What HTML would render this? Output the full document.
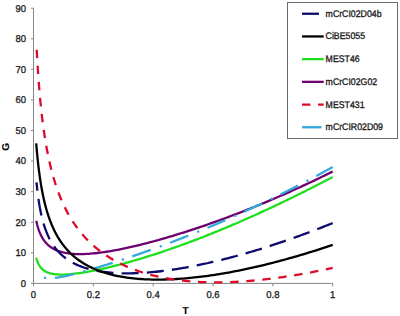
<!DOCTYPE html>
<html><head><meta charset="utf-8"><style>
html,body{margin:0;padding:0;background:#fff;}
svg{display:block;}
text{font-family:"Liberation Sans",sans-serif;font-size:9px;fill:#1a1a1a;text-rendering:geometricPrecision;stroke:#1a1a1a;stroke-width:0.3px;}
text.a{font-size:9.5px;}
text.l{font-size:8.75px;}
text.b{font-weight:bold;fill:#000;font-size:10px;stroke-width:0.1px;}
</style></head><body>
<svg width="400" height="316" viewBox="0 0 400 316">
<rect width="400" height="316" fill="#fff"/>
<path d="M33.5,8.2 V283.4 H332.7" stroke="#868686" stroke-width="1" fill="none"/>
<path d="M31.0,283.40 H33.5" stroke="#868686" stroke-width="1"/>
<text class="a" transform="translate(26,286.70) scale(1,1.04)" text-anchor="end">0</text>
<path d="M31.0,252.82 H33.5" stroke="#868686" stroke-width="1"/>
<text class="a" transform="translate(26,256.12) scale(1,1.04)" text-anchor="end">10</text>
<path d="M31.0,222.24 H33.5" stroke="#868686" stroke-width="1"/>
<text class="a" transform="translate(26,225.54) scale(1,1.04)" text-anchor="end">20</text>
<path d="M31.0,191.67 H33.5" stroke="#868686" stroke-width="1"/>
<text class="a" transform="translate(26,194.97) scale(1,1.04)" text-anchor="end">30</text>
<path d="M31.0,161.09 H33.5" stroke="#868686" stroke-width="1"/>
<text class="a" transform="translate(26,164.39) scale(1,1.04)" text-anchor="end">40</text>
<path d="M31.0,130.51 H33.5" stroke="#868686" stroke-width="1"/>
<text class="a" transform="translate(26,133.81) scale(1,1.04)" text-anchor="end">50</text>
<path d="M31.0,99.93 H33.5" stroke="#868686" stroke-width="1"/>
<text class="a" transform="translate(26,103.23) scale(1,1.04)" text-anchor="end">60</text>
<path d="M31.0,69.36 H33.5" stroke="#868686" stroke-width="1"/>
<text class="a" transform="translate(26,72.66) scale(1,1.04)" text-anchor="end">70</text>
<path d="M31.0,38.78 H33.5" stroke="#868686" stroke-width="1"/>
<text class="a" transform="translate(26,42.08) scale(1,1.04)" text-anchor="end">80</text>
<path d="M31.0,8.20 H33.5" stroke="#868686" stroke-width="1"/>
<text class="a" transform="translate(26,11.50) scale(1,1.04)" text-anchor="end">90</text>
<path d="M33.50,283.4 V286.4" stroke="#868686" stroke-width="1"/>
<text class="a" transform="translate(33.50,298.1) scale(1,1.04)" text-anchor="middle">0</text>
<path d="M93.34,283.4 V286.4" stroke="#868686" stroke-width="1"/>
<text class="a" transform="translate(93.34,298.1) scale(1,1.04)" text-anchor="middle">0.2</text>
<path d="M153.18,283.4 V286.4" stroke="#868686" stroke-width="1"/>
<text class="a" transform="translate(153.18,298.1) scale(1,1.04)" text-anchor="middle">0.4</text>
<path d="M213.02,283.4 V286.4" stroke="#868686" stroke-width="1"/>
<text class="a" transform="translate(213.02,298.1) scale(1,1.04)" text-anchor="middle">0.6</text>
<path d="M272.86,283.4 V286.4" stroke="#868686" stroke-width="1"/>
<text class="a" transform="translate(272.86,298.1) scale(1,1.04)" text-anchor="middle">0.8</text>
<path d="M332.70,283.4 V286.4" stroke="#868686" stroke-width="1"/>
<text class="a" transform="translate(332.70,298.1) scale(1,1.04)" text-anchor="middle">1</text>
<path d="M36.31,220.80 L36.35,221.00 L36.40,221.21 L36.44,221.41 L36.48,221.61 L36.53,221.82 L36.57,222.03 L36.62,222.23 L36.67,222.44 L36.71,222.65 L36.76,222.86 L36.81,223.07 L36.86,223.28 L36.91,223.49 L36.96,223.70 L37.01,223.92 L37.07,224.13 L37.12,224.35 L37.17,224.56 L37.23,224.78 L37.28,224.99 L37.34,225.21 L37.40,225.43 L37.46,225.65 L37.52,225.86 L37.58,226.08 L37.64,226.30 L37.70,226.52 L37.76,226.74 L37.83,226.97 L37.89,227.19 L37.96,227.41 L38.02,227.63 L38.09,227.86 L38.16,228.08 L38.23,228.30 L38.30,228.53 L38.37,228.75 L38.45,228.98 L38.52,229.20 L38.60,229.43 L38.67,229.65 L38.75,229.88 L38.83,230.11 L38.91,230.33 L38.99,230.56 L39.07,230.79 L39.15,231.01 L39.24,231.24 L39.33,231.47 L39.41,231.70 L39.50,231.92 L39.59,232.15 L39.68,232.38 L39.78,232.61 L39.87,232.83 L39.96,233.06 L40.06,233.29 L40.16,233.52 L40.26,233.75 L40.36,233.97 L40.46,234.20 L40.57,234.43 L40.67,234.66 L40.78,234.88 L40.89,235.11 L41.00,235.34 L41.11,235.56 L41.23,235.79 L41.34,236.02 L41.46,236.24 L41.58,236.47 L41.70,236.69 L41.82,236.92 L41.95,237.14 L42.08,237.37 L42.20,237.59 L42.34,237.81 L42.47,238.04 L42.60,238.26 L42.74,238.48 L42.88,238.70 L43.02,238.92 L43.16,239.15 L43.30,239.37 L43.45,239.58 L43.60,239.80 L43.75,240.02 L43.91,240.24 L44.06,240.46 L44.22,240.67 L44.38,240.89 L44.54,241.10 L44.71,241.32 L44.88,241.53 L45.05,241.74 L45.22,241.95 L45.40,242.16 L45.57,242.37 L45.76,242.58 L45.94,242.79 L46.13,243.00 L46.31,243.20 L46.51,243.41 L46.70,243.61 L46.90,243.82 L47.10,244.02 L47.30,244.22 L47.51,244.42 L47.72,244.62 L47.93,244.82 L48.15,245.01 L48.37,245.21 L48.59,245.40 L48.82,245.59 L49.05,245.78 L49.28,245.97 L49.52,246.16 L49.76,246.35 L50.00,246.54 L50.25,246.72 L50.50,246.90 L50.76,247.08 L51.01,247.26 L51.28,247.44 L51.54,247.62 L51.81,247.79 L52.09,247.97 L52.37,248.14 L52.65,248.31 L52.94,248.48 L53.23,248.65 L53.52,248.81 L53.82,248.97 L54.13,249.14 L54.44,249.29 L54.75,249.45 L55.07,249.61 L55.39,249.76 L55.72,249.91 L56.05,250.06 L56.39,250.21 L56.73,250.36 L57.08,250.50 L57.44,250.64 L57.79,250.78 L58.16,250.92 L58.53,251.05 L58.90,251.18 L59.28,251.31 L59.67,251.44 L60.06,251.57 L60.46,251.69 L60.87,251.81 L61.28,251.93 L61.69,252.04 L62.11,252.15 L62.54,252.26 L62.98,252.37 L63.42,252.48 L65.68,252.95 L67.95,253.32 L70.21,253.61 L72.47,253.83 L74.73,253.98 L77.00,254.07 L79.26,254.11 L81.52,254.10 L83.79,254.04 L86.05,253.95 L88.31,253.82 L90.57,253.66 L92.84,253.47 L95.10,253.24 L97.36,252.99 L99.63,252.72 L101.89,252.42 L104.15,252.10 L106.41,251.76 L108.68,251.40 L110.94,251.02 L113.20,250.63 L115.47,250.22 L117.73,249.79 L119.99,249.34 L122.25,248.89 L124.52,248.42 L126.78,247.93 L129.04,247.43 L131.31,246.92 L133.57,246.40 L135.83,245.87 L138.09,245.33 L140.36,244.77 L142.62,244.21 L144.88,243.63 L147.15,243.05 L149.41,242.46 L151.67,241.85 L153.93,241.24 L156.20,240.62 L158.46,239.99 L160.72,239.35 L162.99,238.71 L165.25,238.05 L167.51,237.39 L169.77,236.72 L172.04,236.04 L174.30,235.36 L176.56,234.67 L178.83,233.97 L181.09,233.26 L183.35,232.55 L185.61,231.83 L187.88,231.10 L190.14,230.36 L192.40,229.62 L194.67,228.87 L196.93,228.12 L199.19,227.36 L201.45,226.59 L203.72,225.82 L205.98,225.04 L208.24,224.25 L210.51,223.46 L212.77,222.66 L215.03,221.85 L217.29,221.04 L219.56,220.22 L221.82,219.39 L224.08,218.56 L226.35,217.73 L228.61,216.88 L230.87,216.03 L233.13,215.18 L235.40,214.32 L237.66,213.45 L239.92,212.58 L242.19,211.70 L244.45,210.81 L246.71,209.92 L248.97,209.02 L251.24,208.12 L253.50,207.21 L255.76,206.29 L258.03,205.37 L260.29,204.44 L262.55,203.51 L264.81,202.57 L267.08,201.63 L269.34,200.67 L271.60,199.72 L273.87,198.75 L276.13,197.78 L278.39,196.81 L280.65,195.82 L282.92,194.83 L285.18,193.84 L287.44,192.84 L289.71,191.83 L291.97,190.82 L294.23,189.80 L296.49,188.78 L298.76,187.74 L301.02,186.71 L303.28,185.66 L305.55,184.61 L307.81,183.56 L310.07,182.49 L312.33,181.42 L314.60,180.35 L316.86,179.27 L319.12,178.18 L321.39,177.08 L323.65,175.98 L325.91,174.87 L328.17,173.76 L330.44,172.64 L332.70,171.51" stroke="#700070" stroke-width="2.3" fill="none"/>
<path d="M36.16,257.80 L36.20,257.94 L36.24,258.09 L36.28,258.23 L36.33,258.37 L36.37,258.52 L36.41,258.66 L36.46,258.81 L36.51,258.95 L36.55,259.10 L36.60,259.25 L36.65,259.39 L36.69,259.54 L36.74,259.69 L36.79,259.84 L36.84,259.99 L36.89,260.13 L36.95,260.28 L37.00,260.43 L37.05,260.58 L37.11,260.73 L37.16,260.88 L37.22,261.03 L37.28,261.18 L37.33,261.33 L37.39,261.48 L37.45,261.63 L37.51,261.78 L37.57,261.93 L37.64,262.08 L37.70,262.23 L37.76,262.38 L37.83,262.53 L37.90,262.68 L37.96,262.83 L38.03,262.98 L38.10,263.13 L38.17,263.28 L38.24,263.43 L38.32,263.58 L38.39,263.73 L38.47,263.88 L38.54,264.02 L38.62,264.17 L38.70,264.32 L38.78,264.47 L38.86,264.62 L38.94,264.76 L39.02,264.91 L39.11,265.06 L39.19,265.20 L39.28,265.35 L39.37,265.49 L39.46,265.64 L39.55,265.78 L39.64,265.93 L39.74,266.07 L39.83,266.21 L39.93,266.35 L40.03,266.50 L40.13,266.64 L40.23,266.78 L40.34,266.92 L40.44,267.05 L40.55,267.19 L40.66,267.33 L40.76,267.47 L40.88,267.60 L40.99,267.74 L41.10,267.87 L41.22,268.01 L41.34,268.14 L41.46,268.27 L41.58,268.40 L41.71,268.53 L41.83,268.66 L41.96,268.79 L42.09,268.92 L42.22,269.05 L42.35,269.17 L42.49,269.30 L42.63,269.42 L42.77,269.54 L42.91,269.66 L43.05,269.78 L43.20,269.90 L43.35,270.02 L43.50,270.14 L43.65,270.26 L43.81,270.37 L43.97,270.48 L44.13,270.60 L44.29,270.71 L44.46,270.82 L44.63,270.93 L44.80,271.04 L44.97,271.14 L45.14,271.25 L45.32,271.35 L45.50,271.45 L45.69,271.56 L45.88,271.66 L46.07,271.75 L46.26,271.85 L46.45,271.95 L46.65,272.04 L46.85,272.14 L47.06,272.23 L47.27,272.32 L47.48,272.41 L47.69,272.49 L47.91,272.58 L48.13,272.66 L48.36,272.74 L48.58,272.83 L48.82,272.91 L49.05,272.98 L49.29,273.06 L49.53,273.13 L49.78,273.21 L50.03,273.28 L50.28,273.35 L50.54,273.42 L50.80,273.48 L51.06,273.55 L51.33,273.61 L51.61,273.67 L51.88,273.73 L52.17,273.79 L52.45,273.84 L52.74,273.90 L53.04,273.95 L53.34,274.00 L53.64,274.05 L53.95,274.09 L54.26,274.14 L54.58,274.18 L54.91,274.22 L55.23,274.26 L55.57,274.29 L55.91,274.33 L56.25,274.36 L56.60,274.39 L56.95,274.42 L57.31,274.44 L57.68,274.47 L58.05,274.49 L58.43,274.51 L58.81,274.53 L59.20,274.54 L59.59,274.55 L59.99,274.56 L60.40,274.57 L60.81,274.58 L61.23,274.58 L61.65,274.58 L62.08,274.58 L62.52,274.57 L62.97,274.57 L63.42,274.56 L65.68,274.48 L67.95,274.34 L70.21,274.17 L72.47,273.95 L74.73,273.70 L77.00,273.42 L79.26,273.11 L81.52,272.78 L83.79,272.42 L86.05,272.04 L88.31,271.65 L90.57,271.23 L92.84,270.80 L95.10,270.35 L97.36,269.88 L99.63,269.40 L101.89,268.91 L104.15,268.40 L106.41,267.88 L108.68,267.34 L110.94,266.80 L113.20,266.24 L115.47,265.67 L117.73,265.09 L119.99,264.50 L122.25,263.90 L124.52,263.29 L126.78,262.67 L129.04,262.05 L131.31,261.41 L133.57,260.76 L135.83,260.10 L138.09,259.43 L140.36,258.76 L142.62,258.07 L144.88,257.38 L147.15,256.68 L149.41,255.97 L151.67,255.25 L153.93,254.53 L156.20,253.80 L158.46,253.05 L160.72,252.31 L162.99,251.55 L165.25,250.78 L167.51,250.01 L169.77,249.23 L172.04,248.45 L174.30,247.65 L176.56,246.85 L178.83,246.04 L181.09,245.23 L183.35,244.41 L185.61,243.58 L187.88,242.74 L190.14,241.90 L192.40,241.05 L194.67,240.19 L196.93,239.33 L199.19,238.46 L201.45,237.58 L203.72,236.70 L205.98,235.81 L208.24,234.92 L210.51,234.01 L212.77,233.11 L215.03,232.19 L217.29,231.27 L219.56,230.34 L221.82,229.41 L224.08,228.47 L226.35,227.53 L228.61,226.58 L230.87,225.62 L233.13,224.66 L235.40,223.69 L237.66,222.71 L239.92,221.73 L242.19,220.75 L244.45,219.75 L246.71,218.76 L248.97,217.75 L251.24,216.74 L253.50,215.73 L255.76,214.71 L258.03,213.69 L260.29,212.65 L262.55,211.62 L264.81,210.58 L267.08,209.53 L269.34,208.48 L271.60,207.42 L273.87,206.36 L276.13,205.29 L278.39,204.22 L280.65,203.14 L282.92,202.06 L285.18,200.97 L287.44,199.88 L289.71,198.78 L291.97,197.68 L294.23,196.57 L296.49,195.46 L298.76,194.34 L301.02,193.22 L303.28,192.10 L305.55,190.96 L307.81,189.83 L310.07,188.69 L312.33,187.54 L314.60,186.39 L316.86,185.24 L319.12,184.08 L321.39,182.92 L323.65,181.75 L325.91,180.58 L328.17,179.40 L330.44,178.22 L332.70,177.04" stroke="#20de20" stroke-width="2.3" fill="none"/>
<path d="M36.49,274.30 L36.54,274.33 L36.58,274.37 L36.62,274.40 L36.67,274.44 L36.72,274.47 L36.76,274.50 L36.81,274.54 L36.86,274.57 L36.91,274.61 L36.96,274.65 L37.01,274.68 L37.06,274.72 L37.11,274.75 L37.16,274.79 L37.22,274.83 L37.27,274.86 L37.33,274.90 L37.38,274.94 L37.44,274.98 L37.50,275.02 L37.56,275.05 L37.61,275.09 L37.67,275.13 L37.74,275.17 L37.80,275.21 L37.86,275.25 L37.92,275.29 L37.99,275.33 L38.05,275.37 L38.12,275.41 L38.19,275.45 L38.26,275.49 L38.33,275.53 L38.40,275.57 L38.47,275.61 L38.54,275.65 L38.61,275.69 L38.69,275.73 L38.76,275.77 L38.84,275.82 L38.92,275.86 L39.00,275.90 L39.08,275.94 L39.16,275.98 L39.24,276.02 L39.32,276.07 L39.41,276.11 L39.50,276.15 L39.58,276.19 L39.67,276.23 L39.76,276.28 L39.85,276.32 L39.95,276.36 L40.04,276.40 L40.14,276.44 L40.23,276.48 L40.33,276.53 L40.43,276.57 L40.53,276.61 L40.63,276.65 L40.74,276.69 L40.84,276.73 L40.95,276.77 L41.06,276.81 L41.17,276.85 L41.28,276.89 L41.39,276.93 L41.51,276.97 L41.63,277.01 L41.75,277.05 L41.87,277.09 L41.99,277.13 L42.11,277.17 L42.24,277.20 L42.36,277.24 L42.49,277.28 L42.63,277.32 L42.76,277.35 L42.89,277.39 L43.03,277.42 L43.17,277.46 L43.31,277.49 L43.45,277.52 L43.60,277.56 L43.75,277.59 L43.90,277.62 L44.05,277.65 L44.20,277.68 L44.36,277.71 L44.52,277.74 L44.68,277.77 L44.84,277.80 L45.00,277.82 L45.17,277.85 L45.34,277.88 L45.52,277.90 L45.69,277.92 L45.87,277.95 L46.05,277.97 L46.23,277.99 L46.42,278.01 L46.61,278.03 L46.80,278.04 L46.99,278.06 L47.19,278.07 L47.39,278.09 L47.59,278.10 L47.80,278.11 L48.00,278.12 L48.22,278.13 L48.43,278.14 L48.65,278.15 L48.87,278.15 L49.09,278.16 L49.32,278.16 L49.55,278.16 L49.79,278.16 L50.02,278.16 L50.26,278.16 L50.51,278.15 L50.76,278.15 L51.01,278.14 L51.26,278.13 L51.52,278.12 L51.79,278.11 L52.05,278.09 L52.32,278.08 L52.60,278.06 L52.88,278.04 L53.16,278.02 L53.45,278.00 L53.74,277.97 L54.03,277.94 L54.33,277.92 L54.64,277.88 L54.94,277.85 L55.26,277.82 L55.57,277.78 L55.90,277.74 L56.22,277.70 L56.55,277.66 L56.89,277.61 L57.23,277.57 L57.58,277.52 L57.93,277.47 L58.29,277.41 L58.65,277.36 L59.01,277.30 L59.39,277.24 L59.76,277.17 L60.15,277.11 L60.54,277.04 L60.93,276.97 L61.33,276.90 L61.74,276.82 L62.15,276.74 L62.57,276.66 L62.99,276.58 L63.42,276.50 L65.68,276.03 L67.95,275.52 L70.21,275.00 L72.47,274.45 L74.73,273.88 L77.00,273.29 L79.26,272.69 L81.52,272.08 L83.79,271.46 L86.05,270.82 L88.31,270.18 L90.57,269.53 L92.84,268.87 L95.10,268.20 L97.36,267.52 L99.63,266.84 L101.89,266.15 L104.15,265.46 L106.41,264.75 L108.68,264.05 L110.94,263.33 L113.20,262.61 L115.47,261.89 L117.73,261.16 L119.99,260.42 L122.25,259.68 L124.52,258.93 L126.78,258.18 L129.04,257.42 L131.31,256.66 L133.57,255.89 L135.83,255.11 L138.09,254.33 L140.36,253.55 L142.62,252.75 L144.88,251.96 L147.15,251.16 L149.41,250.35 L151.67,249.54 L153.93,248.72 L156.20,247.89 L158.46,247.07 L160.72,246.23 L162.99,245.39 L165.25,244.55 L167.51,243.70 L169.77,242.84 L172.04,241.98 L174.30,241.11 L176.56,240.24 L178.83,239.37 L181.09,238.48 L183.35,237.60 L185.61,236.70 L187.88,235.80 L190.14,234.90 L192.40,233.99 L194.67,233.08 L196.93,232.16 L199.19,231.23 L201.45,230.30 L203.72,229.36 L205.98,228.42 L208.24,227.48 L210.51,226.52 L212.77,225.57 L215.03,224.60 L217.29,223.64 L219.56,222.66 L221.82,221.68 L224.08,220.70 L226.35,219.71 L228.61,218.71 L230.87,217.71 L233.13,216.71 L235.40,215.70 L237.66,214.68 L239.92,213.66 L242.19,212.63 L244.45,211.60 L246.71,210.56 L248.97,209.51 L251.24,208.46 L253.50,207.41 L255.76,206.35 L258.03,205.28 L260.29,204.21 L262.55,203.14 L264.81,202.06 L267.08,200.97 L269.34,199.88 L271.60,198.78 L273.87,197.67 L276.13,196.57 L278.39,195.45 L280.65,194.33 L282.92,193.21 L285.18,192.08 L287.44,190.94 L289.71,189.80 L291.97,188.65 L294.23,187.50 L296.49,186.34 L298.76,185.18 L301.02,184.01 L303.28,182.84 L305.55,181.66 L307.81,180.47 L310.07,179.28 L312.33,178.09 L314.60,176.88 L316.86,175.68 L319.12,174.47 L321.39,173.25 L323.65,172.02 L325.91,170.80 L328.17,169.56 L330.44,168.32 L332.70,167.08" stroke="#33a9dc" stroke-width="2.3" fill="none" stroke-dasharray="19.5 9.6 2.2 8.9" stroke-dashoffset="20.90"/>
<path d="M36.49,182.28 L36.54,182.74 L36.58,183.20 L36.62,183.66 L36.67,184.12 L36.72,184.58 L36.76,185.04 L36.81,185.51 L36.86,185.98 L36.91,186.45 L36.96,186.92 L37.01,187.39 L37.06,187.86 L37.11,188.34 L37.16,188.81 L37.22,189.29 L37.27,189.77 L37.33,190.25 L37.38,190.73 L37.44,191.21 L37.50,191.70 L37.56,192.18 L37.61,192.67 L37.67,193.16 L37.74,193.64 L37.80,194.13 L37.86,194.62 L37.92,195.11 L37.99,195.61 L38.05,196.10 L38.12,196.59 L38.19,197.09 L38.26,197.58 L38.33,198.08 L38.40,198.58 L38.47,199.08 L38.54,199.57 L38.61,200.07 L38.69,200.57 L38.76,201.07 L38.84,201.57 L38.92,202.08 L39.00,202.58 L39.08,203.08 L39.16,203.58 L39.24,204.09 L39.32,204.59 L39.41,205.09 L39.50,205.60 L39.58,206.10 L39.67,206.60 L39.76,207.11 L39.85,207.61 L39.95,208.12 L40.04,208.62 L40.14,209.13 L40.23,209.63 L40.33,210.14 L40.43,210.64 L40.53,211.15 L40.63,211.65 L40.74,212.16 L40.84,212.66 L40.95,213.17 L41.06,213.67 L41.17,214.18 L41.28,214.68 L41.39,215.18 L41.51,215.68 L41.63,216.19 L41.75,216.69 L41.87,217.19 L41.99,217.69 L42.11,218.19 L42.24,218.69 L42.36,219.19 L42.49,219.69 L42.63,220.19 L42.76,220.69 L42.89,221.18 L43.03,221.68 L43.17,222.18 L43.31,222.67 L43.45,223.16 L43.60,223.66 L43.75,224.15 L43.90,224.64 L44.05,225.13 L44.20,225.62 L44.36,226.11 L44.52,226.60 L44.68,227.08 L44.84,227.57 L45.00,228.05 L45.17,228.54 L45.34,229.02 L45.52,229.50 L45.69,229.98 L45.87,230.46 L46.05,230.94 L46.23,231.41 L46.42,231.89 L46.61,232.36 L46.80,232.83 L46.99,233.30 L47.19,233.77 L47.39,234.24 L47.59,234.71 L47.80,235.18 L48.00,235.64 L48.22,236.10 L48.43,236.56 L48.65,237.02 L48.87,237.48 L49.09,237.94 L49.32,238.39 L49.55,238.85 L49.79,239.30 L50.02,239.75 L50.26,240.19 L50.51,240.64 L50.76,241.09 L51.01,241.53 L51.26,241.97 L51.52,242.41 L51.79,242.85 L52.05,243.28 L52.32,243.72 L52.60,244.15 L52.88,244.58 L53.16,245.01 L53.45,245.43 L53.74,245.86 L54.03,246.28 L54.33,246.70 L54.64,247.12 L54.94,247.53 L55.26,247.95 L55.57,248.36 L55.90,248.77 L56.22,249.18 L56.55,249.58 L56.89,249.99 L57.23,250.39 L57.58,250.79 L57.93,251.18 L58.29,251.58 L58.65,251.97 L59.01,252.36 L59.39,252.75 L59.76,253.13 L60.15,253.51 L60.54,253.89 L60.93,254.27 L61.33,254.65 L61.74,255.02 L62.15,255.39 L62.57,255.76 L62.99,256.12 L63.42,256.48 L65.68,258.27 L67.95,259.87 L70.21,261.30 L72.47,262.60 L74.73,263.78 L77.00,264.84 L79.26,265.81 L81.52,266.69 L83.79,267.48 L86.05,268.21 L88.31,268.87 L90.57,269.46 L92.84,270.00 L95.10,270.49 L97.36,270.93 L99.63,271.32 L101.89,271.68 L104.15,271.99 L106.41,272.26 L108.68,272.50 L110.94,272.71 L113.20,272.88 L115.47,273.03 L117.73,273.14 L119.99,273.23 L122.25,273.30 L124.52,273.33 L126.78,273.35 L129.04,273.34 L131.31,273.31 L133.57,273.26 L135.83,273.19 L138.09,273.10 L140.36,272.99 L142.62,272.86 L144.88,272.71 L147.15,272.55 L149.41,272.37 L151.67,272.18 L153.93,271.96 L156.20,271.74 L158.46,271.50 L160.72,271.24 L162.99,270.97 L165.25,270.68 L167.51,270.39 L169.77,270.08 L172.04,269.75 L174.30,269.42 L176.56,269.07 L178.83,268.71 L181.09,268.33 L183.35,267.95 L185.61,267.55 L187.88,267.14 L190.14,266.72 L192.40,266.30 L194.67,265.86 L196.93,265.40 L199.19,264.94 L201.45,264.47 L203.72,263.99 L205.98,263.50 L208.24,263.00 L210.51,262.49 L212.77,261.97 L215.03,261.44 L217.29,260.90 L219.56,260.35 L221.82,259.79 L224.08,259.23 L226.35,258.65 L228.61,258.07 L230.87,257.47 L233.13,256.87 L235.40,256.26 L237.66,255.65 L239.92,255.02 L242.19,254.39 L244.45,253.74 L246.71,253.09 L248.97,252.44 L251.24,251.77 L253.50,251.10 L255.76,250.42 L258.03,249.73 L260.29,249.03 L262.55,248.33 L264.81,247.61 L267.08,246.89 L269.34,246.17 L271.60,245.43 L273.87,244.69 L276.13,243.95 L278.39,243.19 L280.65,242.43 L282.92,241.66 L285.18,240.88 L287.44,240.10 L289.71,239.31 L291.97,238.52 L294.23,237.71 L296.49,236.90 L298.76,236.09 L301.02,235.26 L303.28,234.43 L305.55,233.60 L307.81,232.76 L310.07,231.91 L312.33,231.05 L314.60,230.19 L316.86,229.32 L319.12,228.45 L321.39,227.57 L323.65,226.68 L325.91,225.79 L328.17,224.89 L330.44,223.99 L332.70,223.08" stroke="#0c0c6c" stroke-width="2.3" fill="none" stroke-dasharray="17 8.2" stroke-dashoffset="8.50"/>
<path d="M36.22,143.40 L36.26,143.92 L36.30,144.45 L36.35,144.97 L36.39,145.51 L36.43,146.04 L36.48,146.58 L36.52,147.12 L36.57,147.67 L36.62,148.21 L36.66,148.76 L36.71,149.32 L36.76,149.88 L36.81,150.44 L36.86,151.00 L36.91,151.57 L36.96,152.14 L37.02,152.71 L37.07,153.29 L37.12,153.87 L37.18,154.45 L37.23,155.03 L37.29,155.62 L37.35,156.21 L37.41,156.80 L37.47,157.40 L37.53,158.00 L37.59,158.60 L37.65,159.20 L37.71,159.81 L37.78,160.42 L37.84,161.03 L37.91,161.65 L37.98,162.27 L38.04,162.89 L38.11,163.51 L38.18,164.13 L38.25,164.76 L38.33,165.39 L38.40,166.02 L38.47,166.65 L38.55,167.29 L38.63,167.93 L38.70,168.57 L38.78,169.21 L38.86,169.86 L38.94,170.50 L39.03,171.15 L39.11,171.80 L39.20,172.45 L39.28,173.11 L39.37,173.76 L39.46,174.42 L39.55,175.08 L39.64,175.74 L39.74,176.40 L39.83,177.07 L39.93,177.73 L40.02,178.40 L40.12,179.07 L40.22,179.74 L40.33,180.41 L40.43,181.08 L40.54,181.75 L40.64,182.43 L40.75,183.11 L40.86,183.78 L40.97,184.46 L41.09,185.14 L41.20,185.82 L41.32,186.50 L41.44,187.18 L41.56,187.87 L41.68,188.55 L41.80,189.23 L41.93,189.92 L42.06,190.60 L42.19,191.29 L42.32,191.98 L42.45,192.66 L42.59,193.35 L42.73,194.04 L42.87,194.73 L43.01,195.42 L43.16,196.11 L43.30,196.80 L43.45,197.48 L43.60,198.17 L43.76,198.86 L43.91,199.55 L44.07,200.24 L44.23,200.93 L44.39,201.62 L44.56,202.31 L44.73,203.00 L44.90,203.69 L45.07,204.38 L45.25,205.07 L45.43,205.75 L45.61,206.44 L45.79,207.13 L45.98,207.81 L46.17,208.50 L46.36,209.19 L46.55,209.87 L46.75,210.55 L46.95,211.24 L47.16,211.92 L47.37,212.60 L47.58,213.28 L47.79,213.96 L48.01,214.64 L48.23,215.32 L48.45,215.99 L48.68,216.67 L48.91,217.34 L49.14,218.02 L49.38,218.69 L49.62,219.36 L49.87,220.03 L50.12,220.70 L50.37,221.37 L50.63,222.03 L50.89,222.70 L51.15,223.36 L51.42,224.02 L51.69,224.68 L51.97,225.34 L52.25,226.00 L52.53,226.65 L52.82,227.30 L53.12,227.95 L53.41,228.60 L53.72,229.25 L54.02,229.90 L54.33,230.54 L54.65,231.18 L54.97,231.82 L55.30,232.46 L55.63,233.10 L55.97,233.73 L56.31,234.36 L56.65,234.99 L57.01,235.62 L57.36,236.24 L57.73,236.87 L58.09,237.49 L58.47,238.10 L58.85,238.72 L59.23,239.33 L59.62,239.94 L60.02,240.55 L60.42,241.16 L60.83,241.76 L61.25,242.36 L61.67,242.96 L62.10,243.55 L62.53,244.15 L62.97,244.73 L63.42,245.32 L65.68,248.12 L67.95,250.66 L70.21,252.97 L72.47,255.10 L74.73,257.05 L77.00,258.85 L79.26,260.51 L81.52,262.04 L83.79,263.47 L86.05,264.79 L88.31,266.01 L90.57,267.16 L92.84,268.22 L95.10,269.21 L97.36,270.13 L99.63,270.99 L101.89,271.79 L104.15,272.53 L106.41,273.23 L108.68,273.87 L110.94,274.47 L113.20,275.02 L115.47,275.54 L117.73,276.02 L119.99,276.45 L122.25,276.86 L124.52,277.23 L126.78,277.57 L129.04,277.88 L131.31,278.15 L133.57,278.41 L135.83,278.63 L138.09,278.83 L140.36,279.00 L142.62,279.15 L144.88,279.28 L147.15,279.39 L149.41,279.47 L151.67,279.53 L153.93,279.57 L156.20,279.60 L158.46,279.60 L160.72,279.59 L162.99,279.56 L165.25,279.51 L167.51,279.44 L169.77,279.36 L172.04,279.26 L174.30,279.15 L176.56,279.02 L178.83,278.87 L181.09,278.71 L183.35,278.54 L185.61,278.36 L187.88,278.16 L190.14,277.94 L192.40,277.72 L194.67,277.48 L196.93,277.23 L199.19,276.96 L201.45,276.69 L203.72,276.40 L205.98,276.10 L208.24,275.79 L210.51,275.47 L212.77,275.13 L215.03,274.79 L217.29,274.44 L219.56,274.07 L221.82,273.70 L224.08,273.31 L226.35,272.91 L228.61,272.51 L230.87,272.09 L233.13,271.67 L235.40,271.23 L237.66,270.79 L239.92,270.34 L242.19,269.88 L244.45,269.40 L246.71,268.92 L248.97,268.44 L251.24,267.94 L253.50,267.43 L255.76,266.92 L258.03,266.39 L260.29,265.86 L262.55,265.32 L264.81,264.77 L267.08,264.22 L269.34,263.65 L271.60,263.08 L273.87,262.50 L276.13,261.91 L278.39,261.32 L280.65,260.72 L282.92,260.10 L285.18,259.49 L287.44,258.86 L289.71,258.23 L291.97,257.59 L294.23,256.94 L296.49,256.29 L298.76,255.62 L301.02,254.96 L303.28,254.28 L305.55,253.60 L307.81,252.91 L310.07,252.21 L312.33,251.51 L314.60,250.80 L316.86,250.08 L319.12,249.36 L321.39,248.63 L323.65,247.89 L325.91,247.15 L328.17,246.40 L330.44,245.64 L332.70,244.88" stroke="#000000" stroke-width="2.3" fill="none"/>
<path d="M36.67,48.52 L36.72,49.41 L36.76,50.30 L36.81,51.20 L36.85,52.09 L36.90,52.99 L36.95,53.90 L37.00,54.81 L37.05,55.72 L37.10,56.63 L37.15,57.55 L37.20,58.47 L37.26,59.39 L37.31,60.32 L37.36,61.25 L37.42,62.18 L37.47,63.12 L37.53,64.05 L37.59,65.00 L37.65,65.94 L37.70,66.89 L37.76,67.84 L37.82,68.79 L37.89,69.74 L37.95,70.70 L38.01,71.66 L38.08,72.62 L38.14,73.59 L38.21,74.55 L38.27,75.52 L38.34,76.49 L38.41,77.47 L38.48,78.44 L38.55,79.42 L38.62,80.40 L38.70,81.38 L38.77,82.37 L38.84,83.35 L38.92,84.34 L39.00,85.33 L39.08,86.32 L39.16,87.32 L39.24,88.31 L39.32,89.31 L39.40,90.31 L39.48,91.31 L39.57,92.31 L39.66,93.31 L39.74,94.31 L39.83,95.32 L39.92,96.32 L40.01,97.33 L40.11,98.34 L40.20,99.35 L40.29,100.36 L40.39,101.37 L40.49,102.39 L40.59,103.40 L40.69,104.42 L40.79,105.43 L40.90,106.45 L41.00,107.47 L41.11,108.48 L41.22,109.50 L41.32,110.52 L41.44,111.54 L41.55,112.56 L41.66,113.58 L41.78,114.60 L41.90,115.63 L42.02,116.65 L42.14,117.67 L42.26,118.69 L42.38,119.72 L42.51,120.74 L42.64,121.76 L42.77,122.78 L42.90,123.81 L43.03,124.83 L43.17,125.85 L43.31,126.88 L43.45,127.90 L43.59,128.92 L43.73,129.95 L43.88,130.97 L44.03,131.99 L44.17,133.01 L44.33,134.03 L44.48,135.05 L44.64,136.07 L44.80,137.09 L44.96,138.11 L45.12,139.13 L45.28,140.15 L45.45,141.17 L45.62,142.19 L45.79,143.20 L45.97,144.22 L46.15,145.23 L46.33,146.25 L46.51,147.26 L46.69,148.27 L46.88,149.28 L47.07,150.29 L47.26,151.30 L47.46,152.31 L47.66,153.32 L47.86,154.32 L48.06,155.33 L48.27,156.33 L48.48,157.34 L48.69,158.34 L48.91,159.34 L49.13,160.34 L49.35,161.34 L49.58,162.33 L49.80,163.33 L50.04,164.32 L50.27,165.31 L50.51,166.30 L50.75,167.29 L51.00,168.28 L51.25,169.27 L51.50,170.25 L51.75,171.23 L52.01,172.22 L52.28,173.20 L52.54,174.17 L52.81,175.15 L53.09,176.13 L53.37,177.10 L53.65,178.07 L53.94,179.04 L54.23,180.01 L54.52,180.97 L54.82,181.94 L55.12,182.90 L55.43,183.86 L55.74,184.82 L56.06,185.77 L56.38,186.73 L56.71,187.68 L57.04,188.63 L57.37,189.58 L57.71,190.52 L58.05,191.47 L58.40,192.41 L58.76,193.35 L59.12,194.29 L59.48,195.22 L59.85,196.15 L60.22,197.08 L60.60,198.01 L60.99,198.94 L61.38,199.86 L61.78,200.78 L62.18,201.70 L62.59,202.62 L63.00,203.53 L63.42,204.44 L65.68,209.11 L67.95,213.40 L70.21,217.35 L72.47,221.02 L74.73,224.43 L77.00,227.61 L79.26,230.59 L81.52,233.38 L83.79,236.00 L86.05,238.48 L88.31,240.81 L90.57,243.02 L92.84,245.10 L95.10,247.08 L97.36,248.96 L99.63,250.74 L101.89,252.44 L104.15,254.05 L106.41,255.59 L108.68,257.05 L110.94,258.45 L113.20,259.78 L115.47,261.05 L117.73,262.26 L119.99,263.42 L122.25,264.53 L124.52,265.58 L126.78,266.59 L129.04,267.55 L131.31,268.47 L133.57,269.35 L135.83,270.19 L138.09,270.99 L140.36,271.75 L142.62,272.48 L144.88,273.17 L147.15,273.83 L149.41,274.46 L151.67,275.06 L153.93,275.62 L156.20,276.16 L158.46,276.67 L160.72,277.16 L162.99,277.62 L165.25,278.05 L167.51,278.46 L169.77,278.84 L172.04,279.20 L174.30,279.54 L176.56,279.86 L178.83,280.15 L181.09,280.43 L183.35,280.68 L185.61,280.92 L187.88,281.13 L190.14,281.33 L192.40,281.50 L194.67,281.66 L196.93,281.80 L199.19,281.93 L201.45,282.04 L203.72,282.13 L205.98,282.20 L208.24,282.26 L210.51,282.30 L212.77,282.33 L215.03,282.35 L217.29,282.34 L219.56,282.33 L221.82,282.30 L224.08,282.26 L226.35,282.20 L228.61,282.13 L230.87,282.05 L233.13,281.95 L235.40,281.85 L237.66,281.73 L239.92,281.59 L242.19,281.45 L244.45,281.29 L246.71,281.13 L248.97,280.95 L251.24,280.76 L253.50,280.56 L255.76,280.35 L258.03,280.13 L260.29,279.90 L262.55,279.66 L264.81,279.41 L267.08,279.14 L269.34,278.87 L271.60,278.59 L273.87,278.30 L276.13,278.01 L278.39,277.70 L280.65,277.38 L282.92,277.06 L285.18,276.73 L287.44,276.38 L289.71,276.03 L291.97,275.68 L294.23,275.31 L296.49,274.94 L298.76,274.55 L301.02,274.17 L303.28,273.77 L305.55,273.37 L307.81,272.95 L310.07,272.54 L312.33,272.11 L314.60,271.68 L316.86,271.24 L319.12,270.80 L321.39,270.34 L323.65,269.88 L325.91,269.42 L328.17,268.95 L330.44,268.47 L332.70,267.99" stroke="#de0c2a" stroke-width="2.3" fill="none" stroke-dasharray="8.4 7.7" stroke-dashoffset="14.90"/>
<rect x="287.5" y="2.5" width="110" height="136" fill="#fff" stroke="#6a6a6a" stroke-width="1"/>
<path d="M302,13.75 H323.7" stroke="#0c0c6c" stroke-width="2.3" fill="none" stroke-dasharray="17 8.2"/>
<text class="l" transform="translate(325.6,16.75) scale(1,1.1)">mCrCI02D04b</text>
<path d="M302,36.45 H323.7" stroke="#000000" stroke-width="2.3" fill="none"/>
<text class="l" transform="translate(325.6,39.45) scale(1,1.1)">CiBE5055</text>
<path d="M302,59.15 H323.7" stroke="#20de20" stroke-width="2.3" fill="none"/>
<text class="l" transform="translate(325.6,62.15) scale(1,1.1)">MEST46</text>
<path d="M302,81.85 H323.7" stroke="#700070" stroke-width="2.3" fill="none"/>
<text class="l" transform="translate(325.6,84.85) scale(1,1.1)">mCrCI02G02</text>
<path d="M302,104.55 H323.7" stroke="#de0c2a" stroke-width="2.3" fill="none" stroke-dasharray="8.4 7.7"/>
<text class="l" transform="translate(325.6,107.55) scale(1,1.1)">MEST431</text>
<path d="M302,127.25 H323.7" stroke="#33a9dc" stroke-width="2.3" fill="none" stroke-dasharray="19.5 9.6 2.2 8.9"/>
<text class="l" transform="translate(325.6,130.25) scale(1,1.1)">mCrCIR02D09</text>
<text class="b" x="182.4" y="314.3">T</text>
<text class="b" transform="translate(9.1,146.8) rotate(-90)" text-anchor="middle">G</text>
</svg>
</body></html>
